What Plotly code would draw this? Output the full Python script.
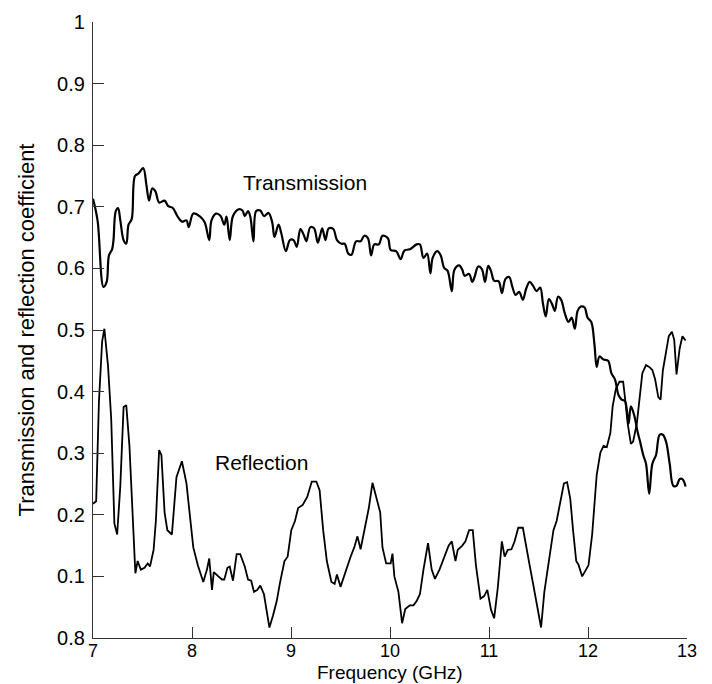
import plotly.graph_objects as go

# Transmission curve (frequency in GHz, coefficient)
trans_f = [7.000, 7.046, 7.106, 7.138, 7.161, 7.193, 7.207, 7.230, 7.253, 7.276, 7.309, 7.336, 7.359, 7.391,
           7.424, 7.460, 7.507, 7.539, 7.566, 7.599, 7.631, 7.668, 7.723, 7.760, 7.806, 7.852, 7.898, 7.944,
           7.967, 8.013, 8.082, 8.128, 8.174, 8.197, 8.243, 8.289, 8.326, 8.349, 8.381, 8.414, 8.473, 8.510,
           8.533, 8.566, 8.589, 8.621, 8.648, 8.690, 8.727, 8.773, 8.810, 8.833, 8.874, 8.902, 8.948, 8.989,
           9.026, 9.058, 9.095, 9.132, 9.155, 9.196, 9.233, 9.270, 9.293, 9.316, 9.348, 9.381, 9.427, 9.464,
           9.510, 9.542, 9.579, 9.611, 9.657, 9.703, 9.740, 9.777, 9.809, 9.841, 9.887, 9.924, 9.979, 10.007,
           10.062, 10.108, 10.145, 10.200, 10.269, 10.302, 10.338, 10.375, 10.408, 10.431, 10.477, 10.513,
           10.546, 10.582, 10.624, 10.651, 10.698, 10.730, 10.753, 10.799, 10.831, 10.854, 10.891, 10.928,
           10.960, 10.992, 11.020, 11.052, 11.098, 11.130, 11.167, 11.204, 11.236, 11.269, 11.305, 11.342,
           11.375, 11.411, 11.444, 11.480, 11.517, 11.545, 11.573, 11.605, 11.637, 11.665, 11.697, 11.729,
           11.766, 11.803, 11.835, 11.867, 11.895, 11.927, 11.964, 11.996, 12.033, 12.065, 12.088, 12.116,
           12.157, 12.203, 12.236, 12.272, 12.309, 12.341, 12.373, 12.410, 12.433, 12.466, 12.503, 12.526,
           12.558, 12.586, 12.618, 12.650, 12.687, 12.724, 12.756, 12.788, 12.825, 12.862, 12.894, 12.926,
           12.954, 12.986]
trans_v = [0.713, 0.678, 0.570, 0.578, 0.621, 0.631, 0.646, 0.693, 0.698, 0.678, 0.646, 0.640, 0.671, 0.680,
           0.750, 0.754, 0.763, 0.736, 0.710, 0.730, 0.725, 0.707, 0.710, 0.701, 0.698, 0.685, 0.676, 0.678,
           0.667, 0.689, 0.684, 0.675, 0.646, 0.678, 0.689, 0.685, 0.671, 0.684, 0.646, 0.685, 0.696, 0.694,
           0.685, 0.693, 0.684, 0.644, 0.693, 0.694, 0.685, 0.690, 0.675, 0.651, 0.671, 0.657, 0.628, 0.646,
           0.646, 0.635, 0.664, 0.653, 0.644, 0.667, 0.665, 0.642, 0.653, 0.665, 0.646, 0.665, 0.664, 0.646,
           0.640, 0.640, 0.624, 0.622, 0.644, 0.644, 0.653, 0.649, 0.621, 0.639, 0.639, 0.653, 0.649, 0.630,
           0.628, 0.615, 0.629, 0.631, 0.639, 0.639, 0.617, 0.624, 0.592, 0.617, 0.628, 0.621,
           0.601, 0.596, 0.563, 0.598, 0.605, 0.598, 0.588, 0.591, 0.578, 0.586, 0.603, 0.599,
           0.578, 0.604, 0.596, 0.580, 0.579, 0.560, 0.583, 0.586, 0.570, 0.557, 0.562, 0.549,
           0.567, 0.578, 0.572, 0.563, 0.569, 0.543, 0.522, 0.550, 0.542, 0.531, 0.554, 0.549,
           0.527, 0.513, 0.520, 0.502, 0.531, 0.538, 0.537, 0.520, 0.513, 0.477, 0.440, 0.457,
           0.452, 0.450, 0.430, 0.420, 0.394, 0.387, 0.385, 0.348, 0.376, 0.362, 0.333, 0.319,
           0.297, 0.283, 0.234, 0.283, 0.297, 0.330, 0.330, 0.319, 0.283, 0.247, 0.247, 0.258,
           0.258, 0.246]

# Reflection curve (frequency in GHz, coefficient)
refl_f = [7.000, 7.032, 7.060, 7.092, 7.115, 7.152, 7.184, 7.216, 7.244, 7.276, 7.309, 7.336, 7.368, 7.401,
          7.428, 7.451, 7.483, 7.520, 7.553, 7.576, 7.612, 7.635, 7.668, 7.691, 7.723, 7.751, 7.797, 7.843,
          7.898, 7.944, 7.981, 8.013, 8.059, 8.114, 8.151, 8.174, 8.202, 8.220, 8.266, 8.303, 8.326, 8.358,
          8.381, 8.414, 8.451, 8.487, 8.533, 8.566, 8.598, 8.626, 8.658, 8.690, 8.727, 8.782, 8.819, 8.856,
          8.888, 8.934, 8.966, 9.003, 9.040, 9.072, 9.118, 9.164, 9.210, 9.256, 9.289, 9.325, 9.362, 9.408,
          9.441, 9.464, 9.500, 9.533, 9.565, 9.602, 9.639, 9.671, 9.703, 9.740, 9.786, 9.823, 9.855, 9.901,
          9.924, 9.961, 10.007, 10.025, 10.044, 10.085, 10.122, 10.154, 10.200, 10.237, 10.269, 10.302,
          10.338, 10.384, 10.421, 10.454, 10.500, 10.546, 10.592, 10.624, 10.661, 10.684, 10.730, 10.762,
          10.799, 10.836, 10.868, 10.914, 10.951, 10.983, 11.020, 11.052, 11.089, 11.130, 11.158, 11.190,
          11.227, 11.259, 11.296, 11.342, 11.374, 11.407, 11.444, 11.490, 11.526, 11.559, 11.605, 11.651,
          11.683, 11.720, 11.757, 11.789, 11.821, 11.849, 11.881, 11.904, 11.941, 11.973, 12.005, 12.042,
          12.065, 12.088, 12.125, 12.157, 12.190, 12.226, 12.249, 12.282, 12.318, 12.355, 12.373, 12.401,
          12.433, 12.456, 12.493, 12.526, 12.549, 12.586, 12.618, 12.650, 12.678, 12.710, 12.733, 12.756,
          12.788, 12.816, 12.848, 12.871, 12.894, 12.926, 12.954, 12.986]
refl_v = [0.218, 0.222, 0.384, 0.481, 0.502, 0.441, 0.355, 0.186, 0.168, 0.247, 0.375, 0.378, 0.312, 0.190,
          0.105, 0.125, 0.111, 0.114, 0.121, 0.116, 0.143, 0.190, 0.305, 0.297, 0.204, 0.175, 0.168, 0.261,
          0.287, 0.251, 0.197, 0.147, 0.118, 0.091, 0.111, 0.129, 0.078, 0.107, 0.100, 0.095, 0.095, 0.114,
          0.116, 0.093, 0.136, 0.136, 0.116, 0.095, 0.093, 0.075, 0.078, 0.085, 0.071, 0.017, 0.037, 0.060,
          0.089, 0.125, 0.132, 0.175, 0.190, 0.211, 0.216, 0.229, 0.254, 0.254, 0.240, 0.175, 0.125, 0.091,
          0.088, 0.103, 0.083, 0.100, 0.114, 0.132, 0.147, 0.165, 0.144, 0.175, 0.211, 0.252, 0.233, 0.204,
          0.147, 0.121, 0.121, 0.137, 0.100, 0.075, 0.024, 0.047, 0.053, 0.053, 0.060, 0.071,
          0.111, 0.154, 0.111, 0.096, 0.111, 0.129, 0.150, 0.157, 0.125, 0.143, 0.150, 0.157,
          0.175, 0.175, 0.118, 0.064, 0.068, 0.078, 0.046, 0.032, 0.082, 0.157, 0.132, 0.143,
          0.144, 0.157, 0.179, 0.179, 0.147, 0.121, 0.089, 0.050, 0.017, 0.075, 0.125, 0.175,
          0.190, 0.218, 0.251, 0.253, 0.226, 0.175, 0.125, 0.119, 0.100, 0.109, 0.118, 0.168,
          0.218, 0.265, 0.301, 0.312, 0.310, 0.333, 0.376, 0.405, 0.416, 0.416, 0.391, 0.348,
          0.315, 0.319, 0.348, 0.391, 0.430, 0.443, 0.440, 0.435, 0.420, 0.391, 0.387, 0.434,
          0.463, 0.490, 0.497, 0.484, 0.428, 0.470, 0.490, 0.483]

x_ticks = [7, 8, 9, 10, 11, 12, 13]
y_ticks = [0, 0.1, 0.2, 0.3, 0.4, 0.5, 0.6, 0.7, 0.8, 0.9, 1]
y_tick_labels = ["0.8", "0.1", "0.2", "0.3", "0.4", "0.5", "0.6", "0.7", "0.8", "0.9", "1"]

labels = [("Transmission", 9.14, 0.740), ("Reflection", 8.70, 0.285)]
x_title = "Frequency (GHz)"
y_title = "Transmission and reflection coefficient"

FONT = "Liberation Sans, Arial, sans-serif"
W, H = 712, 684
M = dict(l=93, r=25, t=22, b=46)

fig = go.Figure()
fig.add_trace(go.Scatter(x=trans_f, y=trans_v, mode="lines", name="Transmission",
                         line=dict(color="black", width=2.2), line_shape="spline",
                         hoverinfo="x+y"))
fig.add_trace(go.Scatter(x=refl_f, y=refl_v, mode="lines", name="Reflection",
                         line=dict(color="black", width=1.8), hoverinfo="x+y"))

for text, lx, ly in labels:
    fig.add_annotation(x=lx, y=ly, text=text, showarrow=False,
                       font=dict(family=FONT, size=21, color="black"))

# x-axis title placed just below the tick labels
plot_h = H - M["t"] - M["b"]
fig.add_annotation(x=0.5, xref="paper", y=-34 / plot_h, yref="paper",
                   xanchor="center", yanchor="middle", text=x_title, showarrow=False,
                   font=dict(family=FONT, size=19, color="black"))

fig.update_layout(
    width=W, height=H,
    margin=M,
    paper_bgcolor="white", plot_bgcolor="white",
    showlegend=False,
    font=dict(family=FONT, color="black"),
)
fig.update_xaxes(
    range=[7, 13], tickvals=x_ticks, ticktext=[str(t) for t in x_ticks],
    ticks="inside", ticklen=11, tickwidth=1, tickcolor="#333",
    showline=True, linecolor="#333", linewidth=1.2, mirror=False,
    showgrid=False, zeroline=False, automargin=False, ticklabelstandoff=-4,
    tickfont=dict(family=FONT, size=18, color="black"),
)
fig.update_yaxes(
    range=[0, 1], tickvals=y_ticks, ticktext=y_tick_labels,
    ticks="inside", ticklen=11, tickwidth=1, tickcolor="#333",
    showline=True, linecolor="#333", linewidth=1.2, mirror=False,
    showgrid=False, zeroline=False, ticklabelstandoff=3, automargin=False,
    tickfont=dict(family=FONT, size=20, color="black"),
    title=dict(text=y_title, font=dict(family=FONT, size=22, color="black"), standoff=16),
)

fig.write_html("out.html")
